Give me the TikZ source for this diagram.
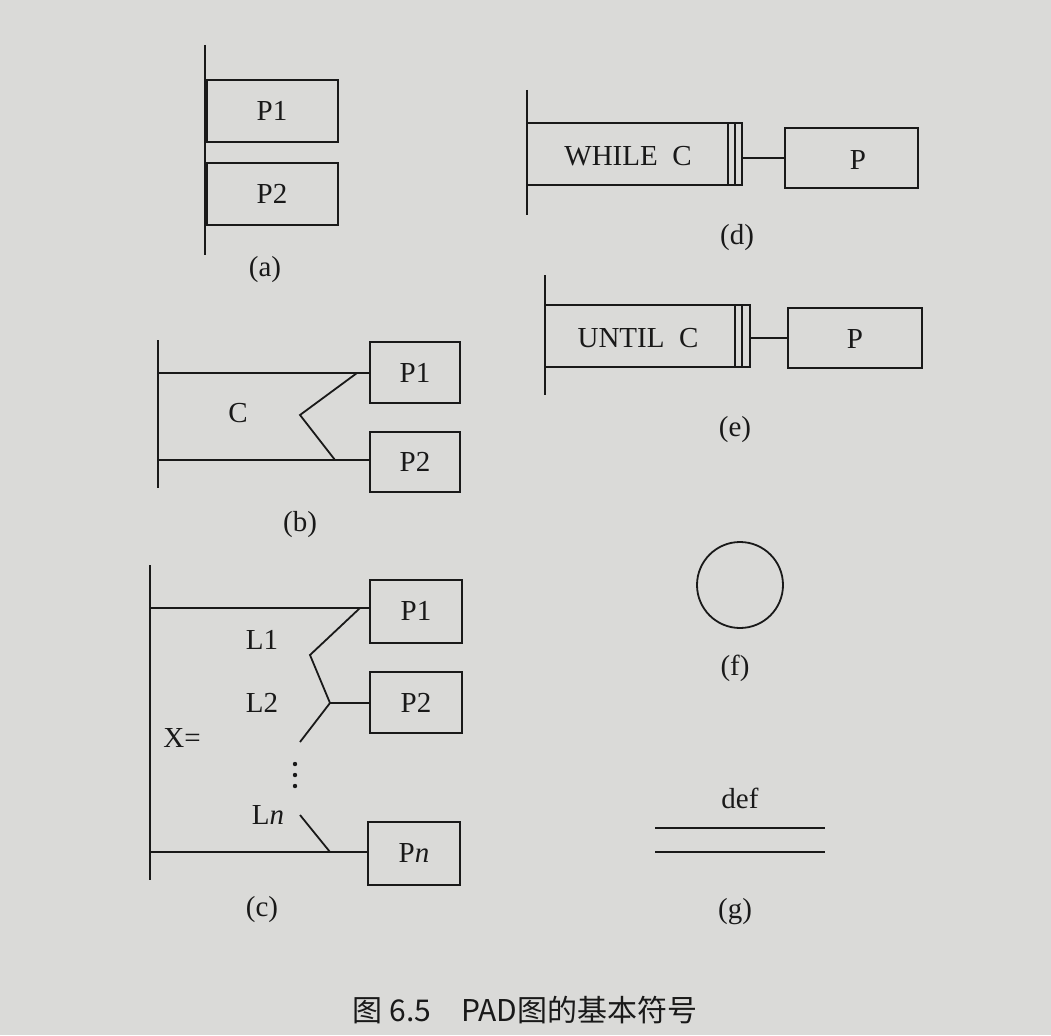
\documentclass[tikz,border=0pt]{standalone}
\usepackage{fontspec}
\setmainfont{Liberation Serif}
\newfontfamily\cjk{Noto Sans CJK SC}
\definecolor{bg}{RGB}{218,218,216}
\definecolor{ink}{RGB}{25,25,25}
\begin{document}
\begin{tikzpicture}[x=1pt,y=-1pt,line width=1.8pt,draw=ink,
  lbl/.style={font=\fontsize{29}{31}\selectfont,text=ink}]
\fill[bg] (0,0) rectangle (1051,1035);
\useasboundingbox (0,0) rectangle (1051,1035);
% (a)
\draw (205,45) -- (205,255);
\draw (207,80) rectangle (338,142); \node[lbl] at (272,111) {P1};
\draw (207,163) rectangle (338,225); \node[lbl] at (272,194) {P2};
\node[lbl] at (265,270) {(a)};
% (b)
\draw (158,340) -- (158,488);
\draw (158,373) -- (370,373);
\draw (158,460) -- (370,460);
\draw (370,342) rectangle (460,403); \node[lbl] at (415,373) {P1};
\draw (370,432) rectangle (460,492); \node[lbl] at (415,462) {P2};
\draw (357,373) -- (300,415) -- (335,460);
\node[lbl] at (238,413) {C};
\node[lbl] at (300,525) {(b)};
% (c)
\draw (150,565) -- (150,880);
\draw (150,608) -- (370,608);
\draw (150,852) -- (368,852);
\draw (370,580) rectangle (462,643); \node[lbl] at (416,611) {P1};
\draw (370,672) rectangle (462,733); \node[lbl] at (416,703) {P2};
\draw (368,822) rectangle (460,885); \node[lbl] at (414,853) {P\textit{n}};
\draw (360,608) -- (310,655) -- (330,703) -- (300,742);
\draw (330,703) -- (370,703);
\draw (300,815) -- (330,852);
\node[lbl] at (262,640) {L1};
\node[lbl] at (262,703) {L2};
\node[lbl] at (268,815) {L\textit{n}};
\foreach \yy in {764,775,786} \fill[ink] (295,\yy) circle (2.2);
\node[lbl] at (182,738) {X=};
\node[lbl] at (262,910) {(c)};
% (d)
\draw (527,90) -- (527,215);
\draw (527,123) rectangle (742,185);
\draw (728,123) -- (728,185); \draw (735,123) -- (735,185);
\node[lbl] at (628,156) {WHILE\ \ C};
\draw (742,158) -- (785,158);
\draw (785,128) rectangle (918,188); \node[lbl] at (858,160) {P};
\node[lbl] at (737,238) {(d)};
% (e)
\draw (545,275) -- (545,395);
\draw (545,305) rectangle (750,367);
\draw (735,305) -- (735,367); \draw (742,305) -- (742,367);
\node[lbl] at (638,338) {UNTIL\ \ C};
\draw (750,338) -- (788,338);
\draw (788,308) rectangle (922,368); \node[lbl] at (855,339) {P};
\node[lbl] at (735,430) {(e)};
% (f)
\draw (740,585) circle (43);
\node[lbl] at (735,668) {(f)};
% (g)
\draw (655,828) -- (825,828);
\draw (655,852) -- (825,852);
\node[lbl] at (740,798) {def};
\node[lbl] at (735,912) {(g)};
% caption
\node[lbl,font=\cjk\fontsize{30}{32}\selectfont] at (525,1010) {图 6.5\quad PAD图的基本符号};
\end{tikzpicture}
\end{document}
